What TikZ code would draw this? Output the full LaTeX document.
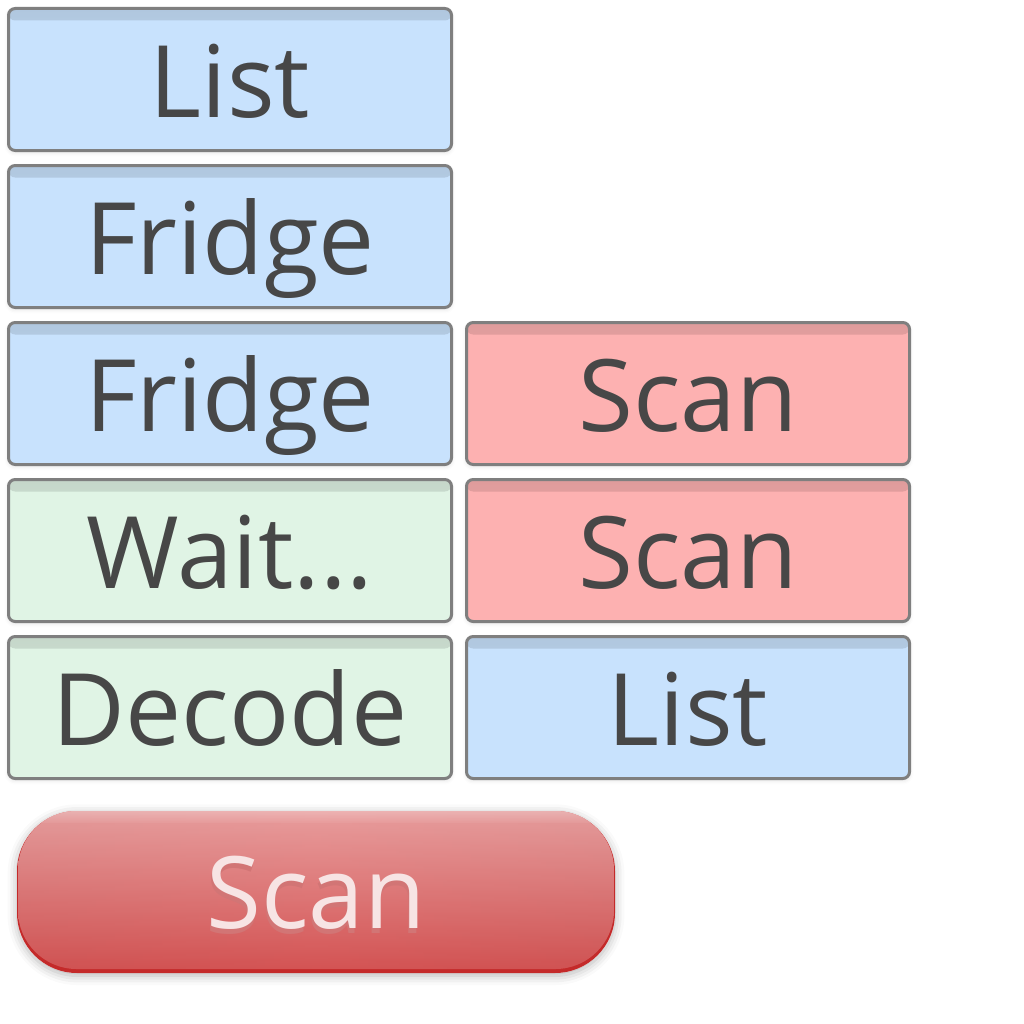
\documentclass[tikz,border=0pt]{standalone}
\usepackage{fontspec}
\setmainfont{Open Sans}
\usetikzlibrary{shadows.blur}
\definecolor{ink}{HTML}{474747}
\definecolor{edge}{HTML}{7F7F7F}
\definecolor{cellblue}{HTML}{C8E2FD}
\definecolor{cellred}{HTML}{FDB1B1}
\definecolor{cellgreen}{HTML}{E0F4E5}
\definecolor{btntop}{HTML}{ECAAAA}
\definecolor{btnbot}{HTML}{D45454}
\definecolor{btnedge}{HTML}{C42A2A}
\definecolor{btntext}{HTML}{F7E4E4}
\definecolor{btnshade}{HTML}{D27575}
\begin{document}
\begin{tikzpicture}[x=0.75pt,y=-0.75pt,
  cell/.style={draw=edge, line width=2.25pt, rounded corners=5pt, fill=#1,
    minimum width=332.25pt, inner sep=0pt,
    text height=81.4pt, text depth=25.1pt, text=ink,
    font=\fontsize{75pt}{80pt}\selectfont,
    blur shadow={shadow xshift=0pt, shadow yshift=-1.5pt, shadow blur radius=3pt, shadow opacity=12},
    path picture={\shade[top color=#1!88!black, bottom color=#1]
      (path picture bounding box.north west) rectangle
      ([yshift=-9pt]path picture bounding box.north east);}},
  blue/.style={cell=cellblue},
  red/.style={cell=cellred},
  green/.style={cell=cellgreen}]
\useasboundingbox (0,0) rectangle (1024,1024);

% left column
\node[blue]  (l1) at (230,79.5)  {List};
\node[blue]  (l2) at (230,236.5) {Fridge};
\node[blue]  (l3) at (230,393.5) {Fridge};
\node[green] (l4) at (230,550.5) {Wait...};
\node[green] (l5) at (230,707.5) {Decode};
% right column
\node[red]   (r3) at (688,393.5) {Scan};
\node[red]   (r4) at (688,550.5) {Scan};
\node[blue]  (r5) at (688,707.5) {List};

% scan button: soft drop shadow, dark rim, glossy body
\path[rounded corners=45pt, fill=white,
  blur shadow={shadow xshift=0pt, shadow yshift=-2pt, shadow blur radius=7pt, shadow opacity=30}]
  (17,811) rectangle (615,973);
\fill[rounded corners=45pt, btnedge] (17,811) rectangle (615,973);
\begin{scope}
  \clip[rounded corners=44pt] (18,811) rectangle (614,969);
  \shade[top color=btntop, bottom color=btnbot] (18,811) rectangle (614,969);
  \shade[top color=btntop!70!white, bottom color=btntop] (18,811) rectangle (614,822);
  \shade[left color=btnbot!85!black, right color=btnbot!85!black, middle color=btnbot, opacity=0.15]
    (18,811) rectangle (614,969);
\end{scope}
\node[anchor=base, text=btnshade, font=\fontsize{75pt}{80pt}\selectfont] (btnsh) at (315,933) {Scan};
\node[anchor=base, text=btntext, font=\fontsize{75pt}{80pt}\selectfont] (btn) at (316,928) {Scan};
\end{tikzpicture}
\end{document}
